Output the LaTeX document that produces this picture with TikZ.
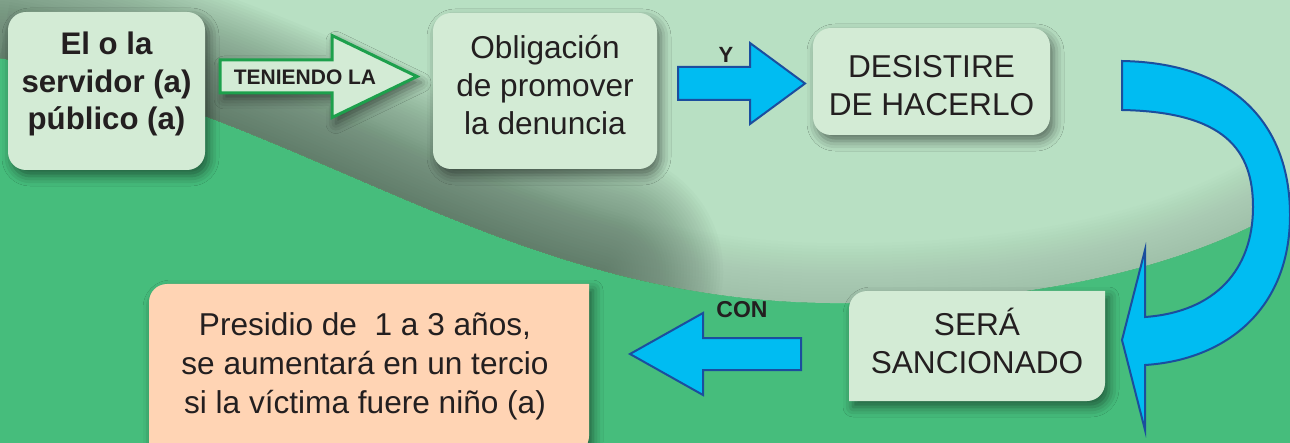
\documentclass[tikz,border=0pt]{standalone}
\usepackage{fontspec}
\setmainfont{Liberation Sans}
\usepackage{tikz}
\usetikzlibrary{positioning, shadows.blur}

\definecolor{bggreen}{HTML}{46BD7C}
\definecolor{bglight}{HTML}{B8E0C3}
\definecolor{bgshadow}{HTML}{5C7665}
\definecolor{boxfill}{HTML}{D3EBD5}
\definecolor{peach}{HTML}{FFD4B4}
\definecolor{arrowgreen}{HTML}{1DA04C}
\definecolor{arrowcyan}{HTML}{00BCF2}
\definecolor{arrowblue}{HTML}{1B4E9E}
\definecolor{ink}{HTML}{231F20}

% block arrow: style, tail x, neck x, tip x, mid y, shaft half width, head half width
\newcommand{\BlockArrow}[7]{%
	\filldraw[#1] (#2,{#5-#6}) -- (#3,{#5-#6}) -- (#3,{#5-#7}) -- (#4,#5) -- (#3,{#5+#7}) -- (#3,{#5+#6}) -- (#2,{#5+#6}) -- cycle;%
}
% box with rounded top left and bottom right corners: style, left, top, right, bottom
\newcommand{\LeafBox}[5]{%
	\fill[#1] (#2,#5) -- (#2,{#3+18}) arc [start angle=180, end angle=270, radius=18] -- (#4,#3) -- (#4,{#5-18}) arc [start angle=0, end angle=90, radius=18] -- cycle;%
}

\tikzset{
	softshadow/.style={blur shadow={shadow xshift=2pt, shadow yshift=-3pt, shadow blur radius=5pt, shadow opacity=50}},
	box/.style={fill=boxfill, rounded corners=9pt, softshadow},
	boxtext/.style={text=ink, align=center, font=\fontsize{15.8}{19}\selectfont},
	arrowlabel/.style={text=ink, font=\bfseries\fontsize{10.5}{12}\selectfont, inner sep=0pt},
	greenarrow/.style={fill=boxfill, draw=arrowgreen, line width=1.5pt, softshadow},
	bluearrow/.style={fill=arrowcyan, draw=arrowblue, line width=1pt},
}

\begin{document}
\begin{tikzpicture}[x=0.5pt, y=-0.5pt]
	\useasboundingbox (0,0) rectangle (1290,443);
	\clip (0,0) rectangle (1290,443);
	
	% background
	\fill[bggreen] (0,0) rectangle (1290,443);
	\begin{scope}
		\clip (0,0) -- (0,58) .. controls (300,110) and (500,300) .. (830,303) .. controls (1050,305) and (1200,260) .. (1290,205) -- (1290,0) -- cycle;
		\fill[bglight] (0,0) rectangle (1290,443);
		\foreach \w in {6,12,...,120}
			\draw[bgshadow, line width=\w*0.5pt, opacity=0.01] (0,58) .. controls (300,110) and (500,300) .. (830,303) .. controls (1050,305) and (1200,260) .. (1290,205);
		\foreach \w in {6,12,...,240}
			\draw[bgshadow, line width=\w*0.5pt, line cap=round, opacity=0.035] (0,58) .. controls (225,97) and (394,214) .. (603,271);
	\end{scope}
	
	% boxes
	\node[box, minimum width=98.5pt, minimum height=79pt] (servidor) at (106.5,91) {};
	\node[box, minimum width=112pt, minimum height=78pt] (obligacion) at (545,91) {};
	\node[box, minimum width=118.5pt, minimum height=53.5pt] (desistir) at (931.5,81.5) {};
	\LeafBox{boxfill, softshadow}{849}{291}{1105}{401}
	\LeafBox{peach, softshadow}{149}{284}{589}{454}
	
	\node[boxtext, font=\bfseries\fontsize{15.6}{18.75}\selectfont] (servidor text) at (106.5,84) {El o la\\servidor (a)\\público (a)};
	\node[boxtext] (obligacion text) at (545,85) {Obligación\\de promover\\la denuncia};
	\node[boxtext] (desistir text) at (931.5,86) {DESISTIRE\\DE HACERLO};
	\node[boxtext] (sancion) at (977,341) {SERÁ\\SANCIONADO};
	\node[boxtext, font=\fontsize{15.8}{19.5}\selectfont] (presidio) at (365,366) {Presidio de\ \ 1 a 3 años,\\se aumentará en un tercio\\si la víctima fuere niño (a)};
	
	% arrows
	\BlockArrow{greenarrow}{220}{332}{417}{76.5}{16.5}{41}
	\BlockArrow{bluearrow}{678}{750}{805}{83.5}{16.5}{40.5}
	\BlockArrow{bluearrow}{801}{703}{630}{354}{16}{41}
	\filldraw[bluearrow] (1122,61) .. controls (1240,63) and (1290,130) .. (1290,215) .. controls (1290,310) and (1225,360) .. (1145,365) -- (1145,430) -- (1122,340) -- (1145,250) -- (1145,317) .. controls (1215,312) and (1253,270) .. (1253,207) .. controls (1253,150) and (1225,112) .. (1122,110) -- cycle;
	
	\node[arrowlabel] (teniendo) at (305,77) {TENIENDO LA};
	\node[arrowlabel, font=\bfseries\fontsize{11}{12}\selectfont] (ylabel) at (726,55) {Y};
	\node[arrowlabel, font=\bfseries\fontsize{11.5}{12}\selectfont] (con) at (742,310) {CON};
\end{tikzpicture}
\end{document}
